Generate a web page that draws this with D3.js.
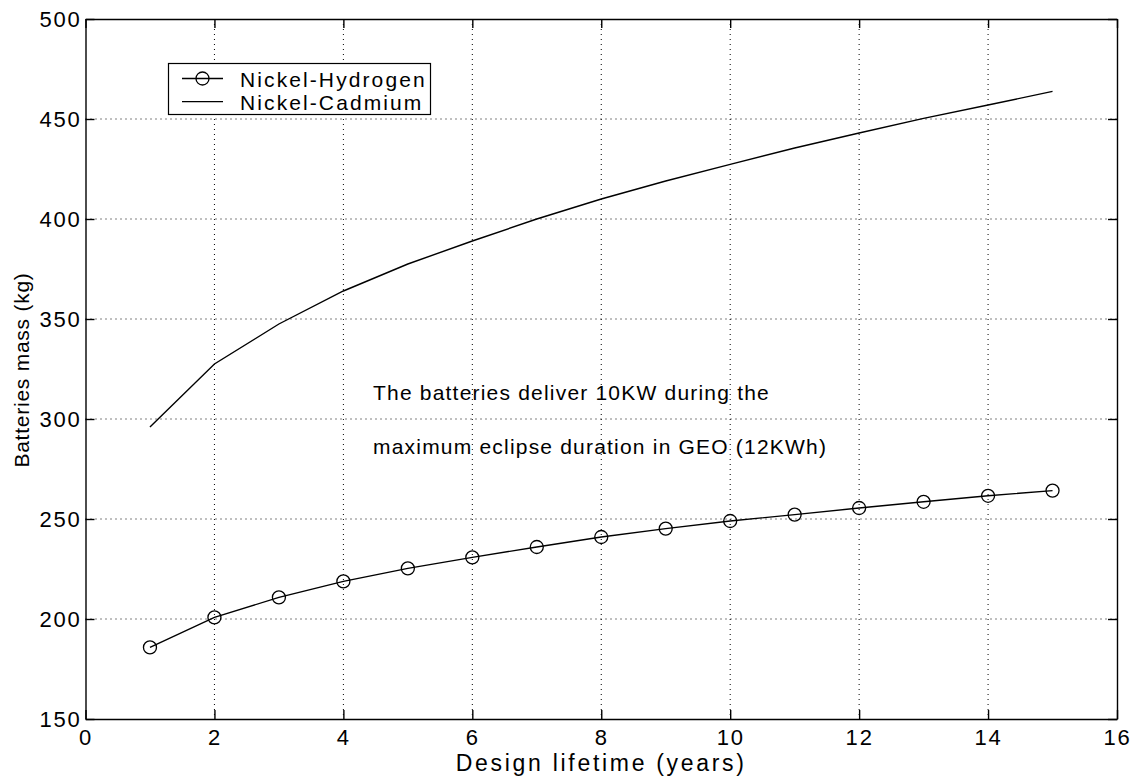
<!DOCTYPE html>
<html>
<head>
<meta charset="utf-8">
<script src="https://cdn.jsdelivr.net/npm/d3@7"></script>
<style>
  html, body { margin: 0; padding: 0; background: #fff; }
  svg { display: block; }
  text { font-family: "Liberation Sans", Arial, Helvetica, sans-serif; fill: #000; }
</style>
</head>
<body>
<svg id="chart" width="1133" height="776"></svg>
<script>
// ---- data ----
const years = [1, 2, 3, 4, 5, 6, 7, 8, 9, 10, 11, 12, 13, 14, 15];
const nickelHydrogen = [185.8, 200.8, 210.8, 218.8, 225.3, 230.8, 236.0, 241.0, 245.2, 249.0, 252.2, 255.5, 258.6, 261.6, 264.2];
const nickelCadmium = [296.0, 327.5, 347.5, 364.0, 377.5, 389.0, 400.0, 410.0, 419.0, 427.3, 435.5, 443.0, 450.3, 457.0, 463.8];
const xTicks = [0, 2, 4, 6, 8, 10, 12, 14, 16];
const yTicks = [150, 200, 250, 300, 350, 400, 450, 500];
const seriesNames = ["Nickel-Hydrogen", "Nickel-Cadmium"];
const xLabel = "Design lifetime (years)";
const yLabel = "Batteries mass (kg)";
const noteLines = ["The batteries deliver 10KW during the", "maximum eclipse duration in GEO (12KWh)"];

// ---- layout ----
const svg = d3.select("#chart");
const L = 85.5, R = 1117, T = 19, B = 719;
const x = d3.scaleLinear().domain([0, 16]).range([L, R]);
const y = d3.scaleLinear().domain([150, 500]).range([B, T]);
const tickLen = 9;

// grid (dotted)
const grid = svg.append("g");
grid.selectAll("line.vx").data(xTicks.slice(1, -1)).enter().append("line")
  .attr("x1", d => x(d)).attr("x2", d => x(d)).attr("y1", T).attr("y2", B)
  .attr("stroke", "#000").attr("stroke-width", 1).attr("stroke-dasharray", "1,4");
grid.selectAll("line.hy").data(yTicks.slice(1, -1)).enter().append("line")
  .attr("x1", L).attr("x2", R).attr("y1", d => y(d)).attr("y2", d => y(d))
  .attr("stroke", "#000").attr("stroke-width", 1).attr("stroke-dasharray", "1,4");

// axes with inward ticks on all four sides
const fmt = d3.format("d");
const axB = svg.append("g").attr("transform", `translate(0,${B})`)
  .call(d3.axisBottom(x).tickValues(xTicks).tickFormat(fmt).tickSizeInner(-tickLen).tickSizeOuter(0).tickPadding(10));
const axT = svg.append("g").attr("transform", `translate(0,${T})`)
  .call(d3.axisTop(x).tickValues(xTicks).tickFormat("").tickSizeInner(-tickLen).tickSizeOuter(0));
const axLft = svg.append("g").attr("transform", `translate(${L},0)`)
  .call(d3.axisLeft(y).tickValues(yTicks).tickFormat(fmt).tickSizeInner(-tickLen).tickSizeOuter(0).tickPadding(4));
const axRt = svg.append("g").attr("transform", `translate(${R},0)`)
  .call(d3.axisRight(y).tickValues(yTicks).tickFormat("").tickSizeInner(-tickLen).tickSizeOuter(0));
[axB, axT, axLft, axRt].forEach(a => {
  a.select(".domain").attr("stroke", "#000").attr("stroke-width", 1.4);
  a.selectAll(".tick line").attr("stroke", "#000").attr("stroke-width", 1.4);
  a.selectAll("text").attr("font-size", 22).attr("letter-spacing", "1.8px")
    .attr("font-family", "'Liberation Sans', Arial, sans-serif").attr("fill", "#000");
});

// series
const line = d3.line().x((d, i) => x(years[i])).y(d => y(d));
svg.append("path").datum(nickelCadmium).attr("d", line)
  .attr("fill", "none").attr("stroke", "#000").attr("stroke-width", 1.4);
svg.append("path").datum(nickelHydrogen).attr("d", line)
  .attr("fill", "none").attr("stroke", "#000").attr("stroke-width", 1.4);
svg.append("g").selectAll("circle").data(nickelHydrogen).enter().append("circle")
  .attr("cx", (d, i) => x(years[i])).attr("cy", d => y(d)).attr("r", 6.5)
  .attr("fill", "none").attr("stroke", "#000").attr("stroke-width", 1.3);

// axis labels
svg.append("text").attr("x", (L + R) / 2).attr("y", 771).attr("text-anchor", "middle")
  .attr("font-size", 23).attr("letter-spacing", "2.7px").text(xLabel);
svg.append("text").attr("transform", `translate(29,${(T + B) / 2 + 1}) rotate(-90)`)
  .attr("text-anchor", "middle").attr("font-size", 21).attr("letter-spacing", "0.75px").text(yLabel);

// annotation
const note = svg.append("g");
noteLines.forEach((t, i) => {
  note.append("text").attr("x", 373).attr("y", 400 + i * 54)
    .attr("font-size", 21).attr("letter-spacing", "1.2px").text(t);
});

// legend
const lg = svg.append("g");
lg.append("rect").attr("x", 168.5).attr("y", 63.5).attr("width", 262).attr("height", 51)
  .attr("fill", "#fff").attr("stroke", "#000").attr("stroke-width", 1.2);
seriesNames.forEach((name, i) => {
  const ly = 78.5 + i * 23.2;
  lg.append("line").attr("x1", 182).attr("x2", 223).attr("y1", ly).attr("y2", ly)
    .attr("stroke", "#000").attr("stroke-width", 1.3);
  if (i === 0) {
    lg.append("circle").attr("cx", 202.5).attr("cy", ly).attr("r", 6.5)
      .attr("fill", "none").attr("stroke", "#000").attr("stroke-width", 1.3);
  }
  lg.append("text").attr("x", 240).attr("y", ly + 8.3).attr("font-size", 21)
    .attr("letter-spacing", "2.1px").text(name);
});
</script>
</body>
</html>
